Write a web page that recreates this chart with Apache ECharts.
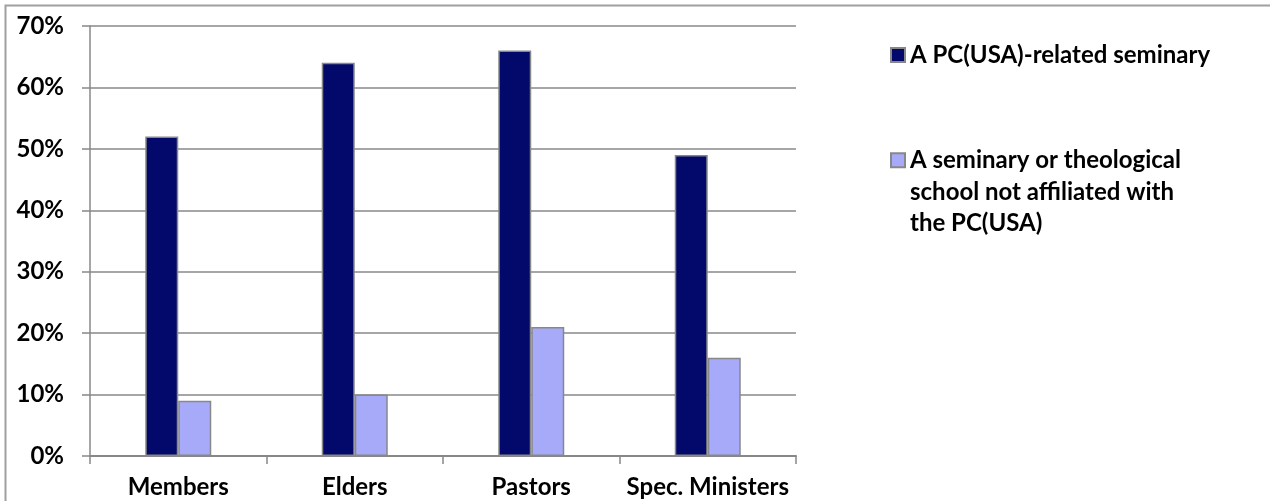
<!DOCTYPE html>
<html>
<head>
<meta charset="utf-8">
<script src="https://cdn.jsdelivr.net/npm/echarts@6/dist/echarts.min.js"></script>
<style>
html,body{margin:0;padding:0;background:#fff;}
#chart{width:1270px;height:501px;}
</style>
</head>
<body>
<div id="chart"></div>
<script>
var categories = ['Members', 'Elders', 'Pastors', 'Spec. Ministers'];
var seriesNames = ['A PC(USA)-related seminary', 'A seminary or theological school not affiliated with the PC(USA)'];
var pcusaValues = [52, 64, 66, 49];
var otherValues = [9, 10, 21, 16];
var yTicks = [0, 10, 20, 30, 40, 50, 60, 70];

var FONT = 'Lato';
var FS = 24;
var chart = echarts.init(document.getElementById('chart'), null, {renderer: 'canvas'});
var option = {
  animation: false,
  backgroundColor: '#ffffff',
  grid: {left: 90, right: 474, top: 26, bottom: 45, containLabel: false},
  xAxis: {
    type: 'category',
    data: categories,
    axisLine: {lineStyle: {color: '#888888', width: 2}},
    axisTick: {show: true, interval: 0, length: 8, lineStyle: {color: '#888888', width: 1.5}},
    axisLabel: {interval: 0, hideOverlap: false, margin: 19, color: '#000', fontFamily: FONT, fontWeight: 'bold', fontSize: FS}
  },
  yAxis: {
    type: 'value',
    min: yTicks[0],
    max: yTicks[yTicks.length - 1],
    interval: 10,
    axisLine: {show: true, lineStyle: {color: '#888888', width: 1.5}},
    axisTick: {show: true, length: 8, lineStyle: {color: '#888888', width: 1.5}},
    splitLine: {show: true, lineStyle: {color: '#888888', width: 1.5}},
    axisLabel: {margin: 26, color: '#000', fontFamily: FONT, fontWeight: 'bold', fontSize: FS, formatter: '{value}%'}
  },
  legend: [
    {
      data: [seriesNames[0]],
      left: 885, top: 34,
      orient: 'vertical',
      itemWidth: 14, itemHeight: 14,
      icon: 'rect',
      textStyle: {color: '#000', fontFamily: FONT, fontWeight: 'bold', fontSize: FS, lineHeight: 32}
    },
    {
      data: [seriesNames[1]],
      left: 885, top: 76,
      orient: 'vertical',
      itemWidth: 14, itemHeight: 14,
      icon: 'rect',
      formatter: function () { return ' \n \nA seminary or theological\nschool not affiliated with\nthe PC(USA)'; },
      textStyle: {color: '#000', fontFamily: FONT, fontWeight: 'bold', fontSize: FS, lineHeight: 31.7}
    }
  ],
  series: [
    {
      name: seriesNames[0], type: 'bar', data: pcusaValues,
      barWidth: 33, barGap: '0%',
      itemStyle: {color: '#03086b', borderColor: '#888888', borderWidth: 1.5}
    },
    {
      name: seriesNames[1], type: 'bar', data: otherValues,
      barWidth: 33, barGap: '0%',
      itemStyle: {color: '#a6aaf9', borderColor: '#888888', borderWidth: 1.5}
    }
  ],
  graphic: [
    {type: 'polyline', silent: true, shape: {points: [[5.5, 501], [5.5, 5.5], [1270, 5.5]]}, style: {stroke: '#a0a0a0', lineWidth: 2, fill: null}}
  ]
};
chart.setOption(option);
</script>
</body>
</html>
